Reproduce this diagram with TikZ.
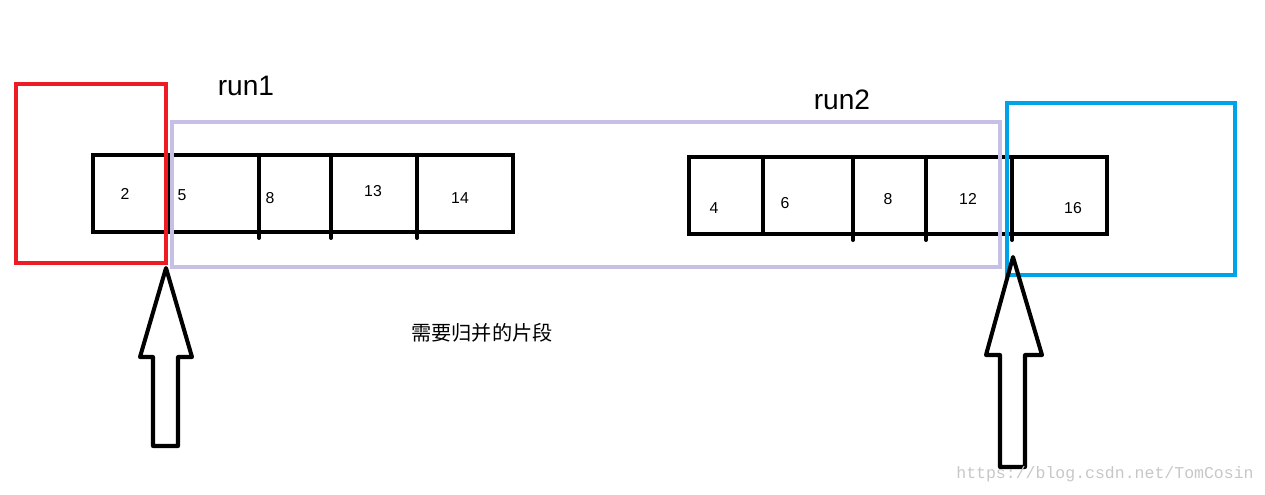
\documentclass[tikz,border=0pt]{standalone}
\usepackage{fontspec}
\setmainfont{Liberation Sans}
\newfontfamily\cjkfont{Noto Sans CJK SC}
\newfontfamily\markfont{Liberation Mono}
\usetikzlibrary{positioning}

\definecolor{headred}{RGB}{237,28,36}
\definecolor{runlilac}{RGB}{200,191,231}
\definecolor{tailblue}{RGB}{0,162,232}

\tikzset{
    cell/.style={draw, line width=2.8pt, anchor=north west, minimum height=1.54cm, inner sep=0pt, outer sep=0pt},
    frame/.style={draw, line width=2.3pt, anchor=north west, inner sep=0pt, outer sep=0pt},
    num/.style={font=\fontsize{9}{10}\selectfont, inner sep=0pt},
    runname/.style={font=\fontsize{16}{19}\selectfont, inner sep=0pt},
    upshape/.style={draw, line width=2.3pt, line join=round}
}

\begin{document}
\begin{tikzpicture}[x=0.02cm, y=-0.02cm]

        \useasboundingbox (0,0) rectangle (1265,494);

        % First run of cells
        \node[cell, minimum width=1.50cm] (a1) at (93,155) {};
        \node[cell, minimum width=1.82cm] (a2) at (168,155) {};
        \node[cell, minimum width=1.44cm] (a3) at (259,155) {};
        \node[cell, minimum width=1.72cm] (a4) at (331,155) {};
        \node[cell, minimum width=1.92cm] (a5) at (417,155) {};

        % Second run of cells
        \node[cell, minimum width=1.48cm] (b1) at (689,157) {};
        \node[cell, minimum width=1.80cm] (b2) at (763,157) {};
        \node[cell, minimum width=1.46cm] (b3) at (853,157) {};
        \node[cell, minimum width=1.72cm] (b4) at (926,157) {};
        \node[cell, minimum width=1.90cm] (b5) at (1012,157) {};

        % Little ticks below the dividers
        \foreach \c in {a3,a4,a5,b3,b4,b5}
            \draw[line width=2.3pt, line cap=round] (\c.south west) -- ++(0,6);

        % Values
        \node[num] (v2) at (125,194) {2};
        \node[num] (v5) at (182,195) {5};
        \node[num] (v8) at (270,198) {8};
        \node[num] (v13) at (373,191) {13};
        \node[num] (v14) at (460,198) {14};
        \node[num] (w4) at (714,208) {4};
        \node[num] (w6) at (785,203) {6};
        \node[num] (w8) at (888,199) {8};
        \node[num] (w12) at (968,199) {12};
        \node[num] (w16) at (1073,208) {16};

        % Frames
        \node[frame, draw=headred, minimum width=3.00cm, minimum height=3.58cm] (head) at (16,84) {};
        \node[frame, draw=runlilac, minimum width=16.56cm, minimum height=2.90cm] (runs) at (172,122) {};
        \node[frame, draw=tailblue, line width=2.5pt, minimum width=4.56cm, minimum height=3.44cm] (tail) at (1007,103) {};

        % Labels
        \node[runname] (run1) at (246,86) {run1};
        \node[runname] (run2) at (842,100) {run2};
        \node[font=\cjkfont\fontsize{11.5}{14}\selectfont] (merge) at (482,333) {需要归并的片段};

        % Pointers
        \draw[upshape] (166,268) -- (192,357) -- (178,357) -- (178,446) -- (153,446)
            -- (153,357) -- (140,357) -- cycle;
        \draw[upshape] (1013,257) -- (1042,355) -- (1025,355) -- (1025,467) -- (1000,467)
            -- (1000,355) -- (986,355) -- cycle;

        % Watermark
        \node[font=\markfont\fontsize{9.4}{11}\selectfont, text=black!22] (mark) at (1105,474) {https://blog.csdn.net/TomCosin};

    \end{tikzpicture}
\end{document}
